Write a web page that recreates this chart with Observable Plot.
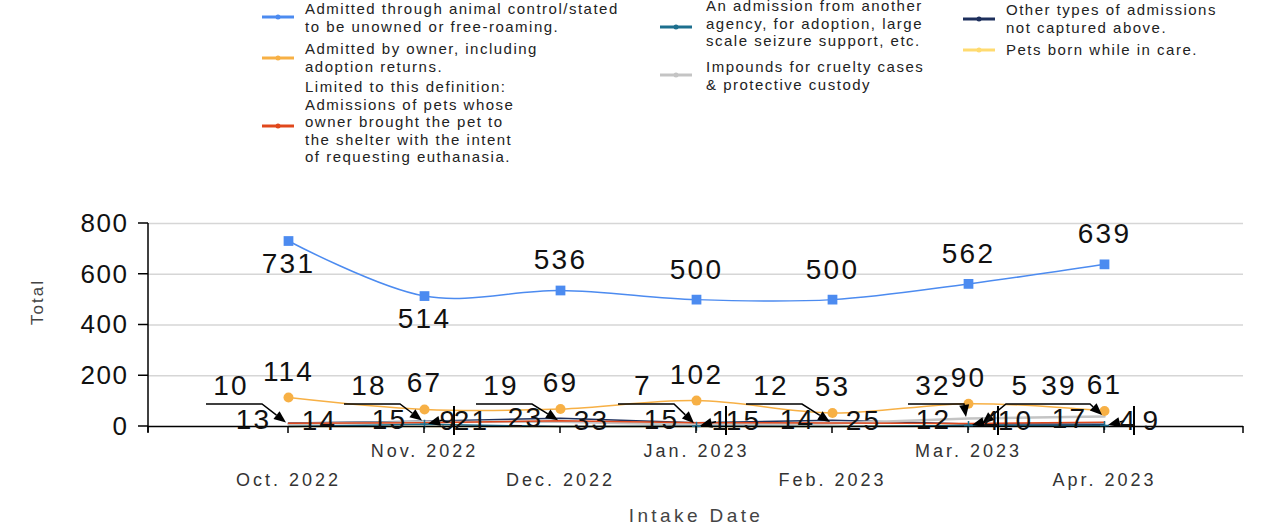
<!DOCTYPE html>
<html><head><meta charset="utf-8">
<script src="https://cdn.jsdelivr.net/npm/d3@7"></script>
<script src="https://cdn.jsdelivr.net/npm/@observablehq/plot@0.6"></script>
<style>
body{margin:0;background:#fff;}
#wrap{position:relative;width:1265px;height:531px;overflow:hidden;background:#fff;}
.leg{position:absolute;font-family:"Liberation Sans",Arial,sans-serif;font-size:15px;line-height:17.6px;color:#222;letter-spacing:1.5px;white-space:pre;}
.sw{position:absolute;}
#chart{position:absolute;left:0;top:0;}
</style></head><body><div id="wrap"><div id="chart"></div></div>
<script>
const months = ["Oct. 2022","Nov. 2022","Dec. 2022","Jan. 2023","Feb. 2023","Mar. 2023","Apr. 2023"];
const animalControl = [731,514,536,500,500,562,639];
const ownerAdmitted = [114,67,69,102,53,90,61];
const euthanasiaRequested = [13,15,23,15,14,12,17];
const otherAgency = [0,9,0,1,0,4,4];
const crueltyImpounds = [10,18,19,7,12,32,39];
const otherTypes = [14,21,33,15,25,10,9];
const bornInCare = [0,0,0,0,0,5,0];
const yTicks = [0,200,400,600,800];
const blueLabelBelow = [true,true,false,false,false,false,false];
const calloutNudge = [0,2,-2,4,-4,22,12];
const legendLabels = [
  "Admitted through animal control/stated\nto be unowned or free-roaming.",
  "Admitted by owner, including\nadoption returns.",
  "Limited to this definition:\nAdmissions of pets whose\nowner brought the pet to\nthe shelter with the intent\nof requesting euthanasia.",
  "An admission from another\nagency, for adoption, large\nscale seizure support, etc.",
  "Impounds for cruelty cases\n& protective custody",
  "Other types of admissions\nnot captured above.",
  "Pets born while in care."
];
const colors = {blue:"#4c8bf0", orange:"#f7b045", red:"#e0481c", teal:"#1d6f8e", gray:"#c4c4c4", navy:"#1d2f5c", yellow:"#ffdb70"};

const rowsOf = arr => months.map((m,i)=>({month:m, i, value:arr[i]}));
const blueRows = rowsOf(animalControl);
const orangeRows = rowsOf(ownerAdmitted);
const redRows = rowsOf(euthanasiaRequested);
const tealRows = rowsOf(otherAgency);
const grayRows = rowsOf(crueltyImpounds);
const navyRows = rowsOf(otherTypes);
const yellowRows = rowsOf(bornInCare);

const F = "Liberation Sans, Arial, sans-serif";

function arrow(g, pts, tip, head=12, hw=5){
  const [lx,ly] = pts[pts.length-1];
  const dx = tip[0]-lx, dy = tip[1]-ly, L = Math.hypot(dx,dy) || 1;
  const ux = dx/L, uy = dy/L;
  const bx = tip[0]-ux*head, by = tip[1]-uy*head;
  g.append("path").attr("d", d3.line()([...pts,[bx,by]])).attr("fill","none").attr("stroke","#000").attr("stroke-width",1.5);
  g.append("path").attr("d", `M${tip[0]},${tip[1]}L${bx-uy*hw},${by+ux*hw}L${bx+uy*hw},${by-ux*hw}Z`).attr("fill","#000").attr("stroke","none");
}

function guides(index, scales, values, dims){
  const {marginLeft, marginRight, width} = dims;
  const xr = width - marginRight;
  const y0 = scales.y(0), yTop = scales.y(800);
  const g = d3.create("svg:g");
  const ln = (x1,y1,x2,y2,w=1.5)=>g.append("line").attr("x1",x1).attr("y1",y1).attr("x2",x2).attr("y2",y2).attr("stroke","#000").attr("stroke-width",w);
  ln(marginLeft, yTop, marginLeft, y0+6);
  yTicks.forEach(t=>ln(marginLeft-10, scales.y(t), marginLeft, scales.y(t)));
  [marginLeft, ...months.map(m=>scales.x(m)), xr].forEach(px=>ln(px, y0, px, y0+7));
  months.forEach((m,i)=>{
    const px = scales.x(m);
    const n = calloutNudge[i];
    const a = crueltyImpounds[i];
    arrow(g, [[px-82+n, y0-22],[px-26+n, y0-22]], [px-2, scales.y(a)-1]);
    g.append("text").attr("x", px-57+n).attr("y", y0-40).attr("dy","0.32em")
      .attr("text-anchor","middle").attr("font-family",F).attr("font-size",28)
      .attr("letter-spacing","2.2px").attr("fill","#111").text(String(a));
    const d = otherAgency[i];
    if (d > 0){
      const py = scales.y(d);
      arrow(g, [[px+20, py-4]], [px+4, py]);
      ln(px+30, y0-20, px+30, y0+9, 2);
    }
    const e = bornInCare[i];
    if (e > 0){
      arrow(g, [[px+66, y0-22],[px+38, y0-22]], [px+14, scales.y(e)-1]);
    }
  });
  return g.node();
}

const big = {fontSize:28, fill:"#111", fontFamily:F, lineAnchor:"middle", ariaDescription:"big"};

const chart = Plot.plot({
  width:1265, height:531,
  marginLeft:148, marginRight:22, marginTop:223, marginBottom:105,
  x:{type:"point", domain:months, padding:1, axis:null},
  y:{domain:[0,800], axis:null},
  style:{fontFamily:F, background:"transparent"},
  marks:[
    Plot.ruleY(yTicks.filter(d=>d>0), {stroke:"#d6d6d6", strokeWidth:1.5}),
    Plot.line(yellowRows, {x:"month", y:"value", stroke:colors.yellow, strokeWidth:1.5}),
    Plot.line(navyRows, {x:"month", y:"value", stroke:colors.navy, strokeWidth:1.5}),
    Plot.line(grayRows, {x:"month", y:"value", stroke:colors.gray, strokeWidth:2.5}),
    Plot.line(redRows, {x:"month", y:"value", stroke:colors.red, strokeWidth:1.5}),
    Plot.line(tealRows, {x:"month", y:"value", stroke:colors.teal, strokeWidth:1.5}),
    Plot.ruleY([0], {stroke:"#000", strokeWidth:1.5}),
    Plot.line(orangeRows, {x:"month", y:"value", stroke:colors.orange, strokeWidth:1.5, curve:"catmull-rom"}),
    Plot.dot(orangeRows, {x:"month", y:"value", fill:colors.orange, r:5, symbol:"circle"}),
    Plot.line(blueRows, {x:"month", y:"value", stroke:colors.blue, strokeWidth:1.5, curve:"catmull-rom"}),
    Plot.dot(blueRows, {x:"month", y:"value", fill:colors.blue, r:5.5, symbol:"square"}),
    Plot.dot(tealRows.filter(d=>d.value>0), {x:"month", y:"value", stroke:colors.teal, r:3, symbol:"plus", strokeWidth:1.5}),
    guides,
    // y tick labels
    Plot.text(yTicks, {y:d=>d, frameAnchor:"left", dx:-20, textAnchor:"end", lineAnchor:"middle", fontSize:26, fill:"#111", ariaDescription:"ytick"}),
    // x tick labels
    Plot.text(months.filter((_,i)=>i%2===1), {x:d=>d, frameAnchor:"bottom", lineAnchor:"middle", dy:25, fontSize:18, fill:"#333", ariaDescription:"xtick"}),
    Plot.text(months.filter((_,i)=>i%2===0), {x:d=>d, frameAnchor:"bottom", lineAnchor:"middle", dy:54, fontSize:18, fill:"#333", ariaDescription:"xtick"}),
    // axis titles
    Plot.text(["Intake Date"], {frameAnchor:"bottom", lineAnchor:"middle", dy:89, fontSize:19, fill:"#444", ariaDescription:"xtitle"}),
    Plot.text(["Total"], {frameAnchor:"left", lineAnchor:"middle", dx:-111, rotate:-90, fontSize:17, fill:"#444", ariaDescription:"ytitle"}),
    // data labels
    Plot.text(blueRows.filter(d=>blueLabelBelow[d.i]), {x:"month", y:"value", text:d=>String(d.value), dy:23, ...big}),
    Plot.text(blueRows.filter(d=>!blueLabelBelow[d.i]), {x:"month", y:"value", text:d=>String(d.value), dy:-30, ...big}),
    Plot.text(orangeRows, {x:"month", y:"value", text:d=>String(d.value), dy:-26, ...big}),
    Plot.text(redRows, {x:"month", y:"value", text:d=>String(d.value), dx:-35, dy:-3, ...big}),
    Plot.text(navyRows.filter(d=>otherAgency[d.i]>0), {x:"month", frameAnchor:"bottom", text:d=>String(d.value), dx:47, dy:-5, ...big}),
    Plot.text(navyRows.filter(d=>!(otherAgency[d.i]>0)), {x:"month", frameAnchor:"bottom", text:d=>String(d.value), dx:31, dy:-5, ...big}),
    Plot.text(tealRows.filter(d=>d.value>0), {x:"month", frameAnchor:"bottom", text:d=>String(d.value), dx:24, dy:-5, ...big}),
    Plot.text(yellowRows.filter(d=>d.value>0), {x:"month", frameAnchor:"bottom", text:d=>String(d.value), dx:52, dy:-40, ...big})
  ]
});
const sel = d3.select(chart);
sel.selectAll('g[aria-description="big"] text').attr("letter-spacing","2.2px");
sel.selectAll('g[aria-description="ytick"] text').attr("letter-spacing","1.5px");
sel.selectAll('g[aria-description="xtick"] text').attr("letter-spacing","3px");
sel.selectAll('g[aria-description="xtitle"] text').attr("letter-spacing","3.4px");
sel.selectAll('g[aria-description="ytitle"] text').attr("letter-spacing","2px");
document.getElementById("chart").appendChild(chart);

// legend
const legendItems = [
  {text:legendLabels[0], color:colors.blue, tx:305, ty:0, sx:262, sy:17},
  {text:legendLabels[1], color:colors.orange, tx:305, ty:40, sx:262, sy:58},
  {text:legendLabels[2], color:colors.red, tx:305, ty:78, sx:262, sy:126},
  {text:legendLabels[3], color:colors.teal, tx:706, ty:-3, sx:660, sy:27},
  {text:legendLabels[4], color:colors.gray, tx:706, ty:58, sx:660, sy:75},
  {text:legendLabels[5], color:colors.navy, tx:1006, ty:1, sx:963, sy:19},
  {text:legendLabels[6], color:colors.yellow, tx:1006, ty:41, sx:963, sy:50}
];
const wrap = document.getElementById("wrap");
legendItems.forEach(it=>{
  const d = document.createElement("div");
  d.className = "leg"; d.style.left = it.tx+"px"; d.style.top = it.ty+"px";
  d.textContent = it.text; wrap.appendChild(d);
  const s = d3.create("svg").attr("class","sw").attr("width",34).attr("height",10)
    .style("left",it.sx+"px").style("top",(it.sy-5)+"px");
  s.append("line").attr("x1",0).attr("x2",32).attr("y1",5).attr("y2",5).attr("stroke",it.color).attr("stroke-width",3);
  s.append("circle").attr("cx",16).attr("cy",5).attr("r",2.5).attr("fill",it.color);
  wrap.appendChild(s.node());
});
</script></body></html>
